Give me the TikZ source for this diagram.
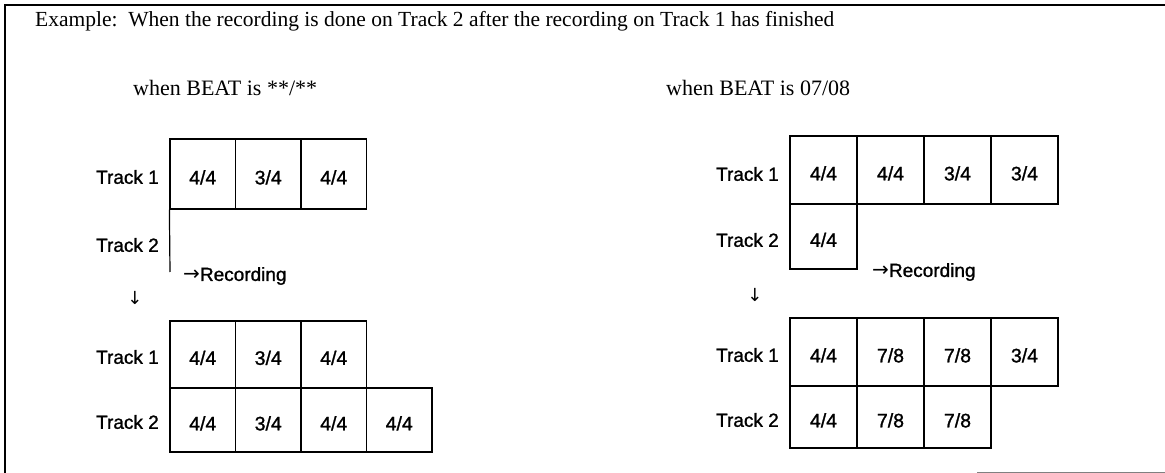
\documentclass[tikz,border=0pt]{standalone}
\usepackage{fontspec}
\setmainfont{Liberation Serif}
\setsansfont{Liberation Sans}
\newfontfamily\trackfont[FakeBold=1.2]{Liberation Sans}
\newfontfamily\arrowfont{DejaVu Sans}
\begin{document}
\begin{tikzpicture}[x=1pt,y=-1pt,
  cell/.style={draw,line width=1.2pt,inner sep=0pt,text height=20.7pt,text depth=0pt,font=\trackfont\fontsize{19.5}{22}\selectfont},
  tlabel/.style={anchor=east,inner sep=0pt,font=\trackfont\fontsize{19}{22}\selectfont},
  head/.style={anchor=west,inner sep=0pt,font=\fontsize{22}{26}\selectfont},
  rec/.style={anchor=west,inner sep=0pt,font=\trackfont\fontsize{19}{22}\selectfont},
  downarrow/.style={inner sep=0pt,font=\arrowfont\fontsize{18}{20}\selectfont}]
\useasboundingbox (0,0) rectangle (1165,473);
% frame
\draw[line width=1.3pt] (5,473) -- (5,5) -- (1165,5);
\draw[line width=1pt,gray] (977,472) -- (1165,472);
% headings
\node[head,font=\fontsize{21.5}{26}\selectfont] (ex) at (35,21) {Example:\ \ When the recording is done on Track 2 after the recording on Track 1 has finished};
\node[head] (hl) at (133,88) {when BEAT is **/**};
\node[head] (hr) at (666,88) {when BEAT is 07/08};

% ---------- left panel ----------
\node[cell,minimum width=65.5pt,minimum height=70pt] (la1) at (202.75,174) {4/4};
\node[cell,minimum width=65.5pt,minimum height=70pt] (la2) at (268.25,174) {3/4};
\node[cell,minimum width=65.5pt,minimum height=70pt] (la3) at (333.75,174) {4/4};
\node[tlabel] (lt1) at (159,177) {Track 1};
\node[tlabel] (lt2) at (159,245) {Track 2};
\coordinate (lt2end) at (170,272);
\draw[line width=1.2pt] (la1.south west) -- (lt2end);
\node[rec] (lrec) at (183,276) {{\arrowfont\fontsize{20}{22}\selectfont →}Recording};
\node[downarrow] (ldown) at (135,298) {↓};

\node[cell,minimum width=65.5pt,minimum height=67pt] (lb1) at (202.75,354.5) {4/4};
\node[cell,minimum width=65.5pt,minimum height=67pt] (lb2) at (268.25,354.5) {3/4};
\node[cell,minimum width=65.5pt,minimum height=67pt] (lb3) at (333.75,354.5) {4/4};
\node[cell,minimum width=65.5pt,minimum height=64pt] (lc1) at (202.75,420) {4/4};
\node[cell,minimum width=65.5pt,minimum height=64pt] (lc2) at (268.25,420) {3/4};
\node[cell,minimum width=65.5pt,minimum height=64pt] (lc3) at (333.75,420) {4/4};
\node[cell,minimum width=65.5pt,minimum height=64pt] (lc4) at (399.25,420) {4/4};
\node[tlabel] (lbt1) at (159,357) {Track 1};
\node[tlabel] (lbt2) at (159,422) {Track 2};

% ---------- right panel ----------
\node[cell,minimum width=67pt,minimum height=68pt] (ra1) at (823.5,170) {4/4};
\node[cell,minimum width=67pt,minimum height=68pt] (ra2) at (890.5,170) {4/4};
\node[cell,minimum width=67pt,minimum height=68pt] (ra3) at (957.5,170) {3/4};
\node[cell,minimum width=67pt,minimum height=68pt] (ra4) at (1024.5,170) {3/4};
\node[cell,minimum width=67pt,minimum height=65pt] (rb) at (823.5,236.5) {4/4};
\node[tlabel] (rt1) at (779,174) {Track 1};
\node[tlabel] (rt2) at (779,240) {Track 2};
\node[rec] (rrec) at (872,272) {{\arrowfont\fontsize{20}{22}\selectfont →}Recording};
\node[downarrow] (rdown) at (755,295) {↓};

\node[cell,minimum width=67pt,minimum height=68pt] (rc1) at (823.5,352) {4/4};
\node[cell,minimum width=67pt,minimum height=68pt] (rc2) at (890.5,352) {7/8};
\node[cell,minimum width=67pt,minimum height=68pt] (rc3) at (957.5,352) {7/8};
\node[cell,minimum width=67pt,minimum height=68pt] (rc4) at (1024.5,352) {3/4};
\node[cell,minimum width=67pt,minimum height=62pt] (rd1) at (823.5,417) {4/4};
\node[cell,minimum width=67pt,minimum height=62pt] (rd2) at (890.5,417) {7/8};
\node[cell,minimum width=67pt,minimum height=62pt] (rd3) at (957.5,417) {7/8};
\node[tlabel] (rct1) at (779,355) {Track 1};
\node[tlabel] (rct2) at (779,420) {Track 2};
\end{tikzpicture}
\end{document}
